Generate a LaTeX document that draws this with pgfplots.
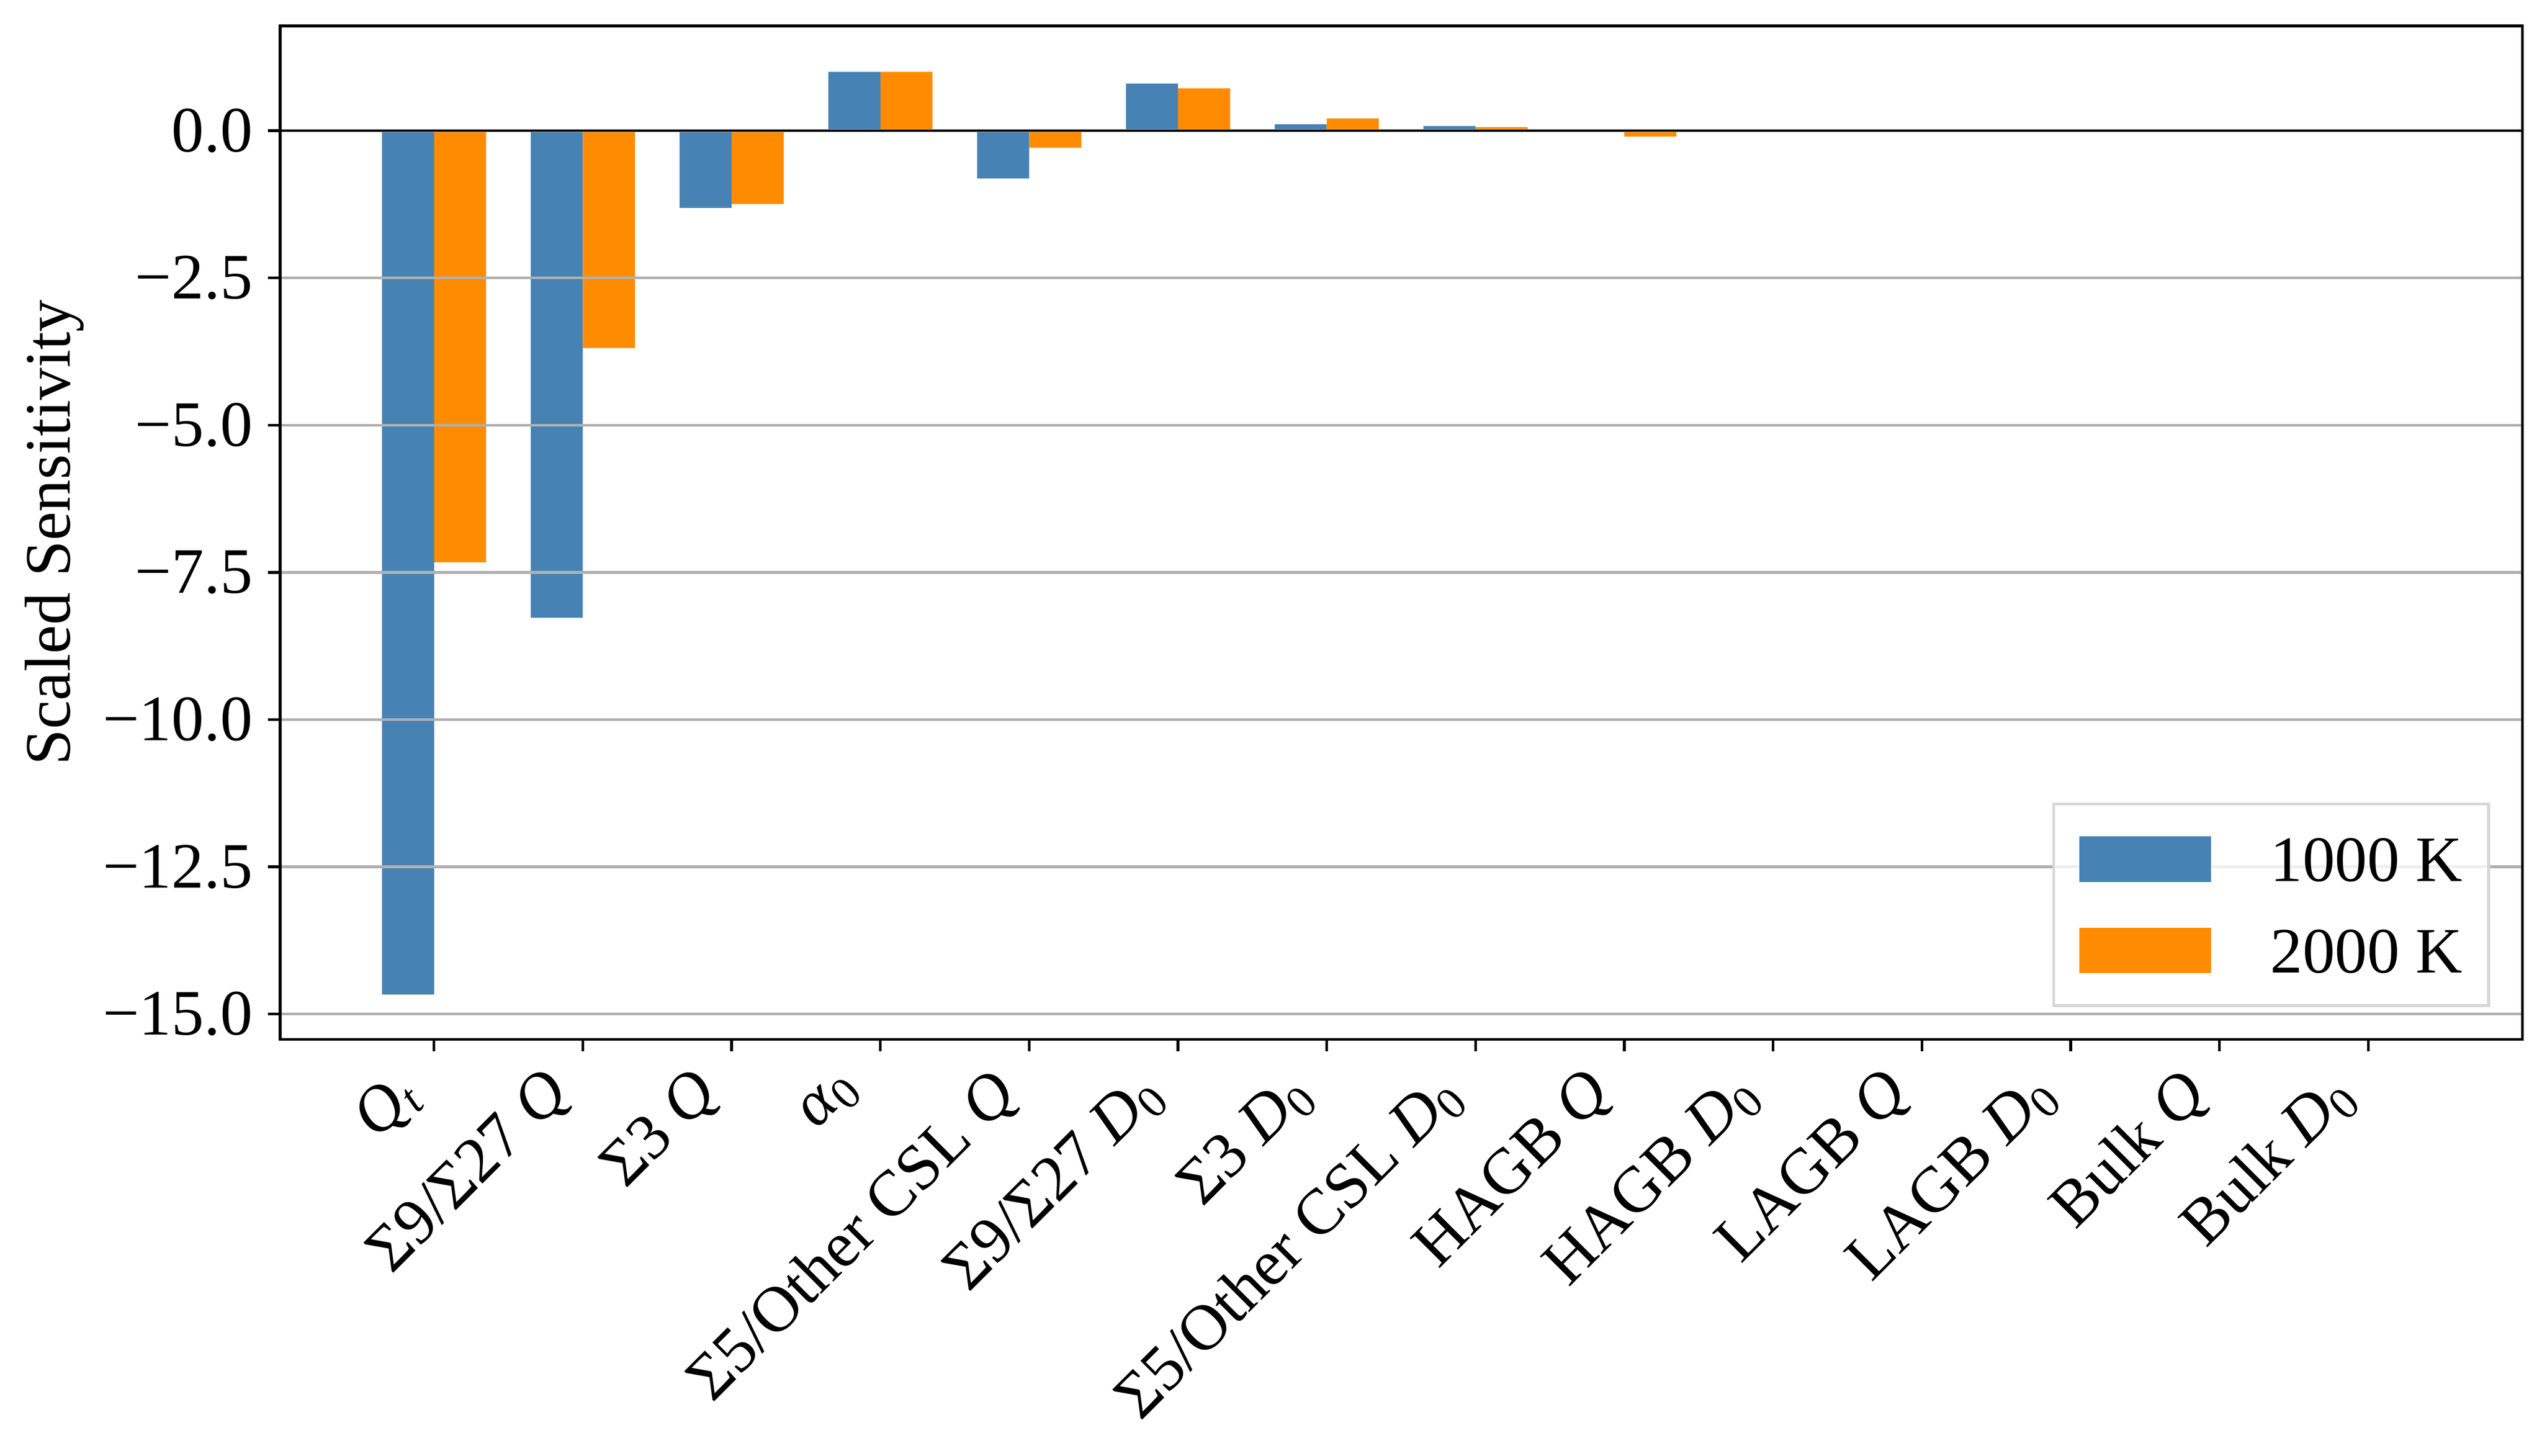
\documentclass[border=0pt]{standalone}
\usepackage{fontspec}
\setmainfont{Liberation Serif}
\usepackage{pgfplots}
\pgfplotsset{compat=1.18}
\definecolor{steelblue}{HTML}{4682B4}
\definecolor{darkorange}{HTML}{FF8C00}
\definecolor{gridgray}{HTML}{B0B0B0}
\definecolor{legframe}{HTML}{D6D6D6}
\begin{document}
\fontsize{10pt}{12pt}\selectfont
\begin{tikzpicture}
\begin{axis}[
  at={(0pt,0pt)}, anchor=south west,
  scale only axis, width=346.25pt, height=156.5pt,
  xmin=-1.035, xmax=14.035, ymin=-15.43, ymax=1.78,
  set layers, axis on top,
  axis line style={line width=0.425pt, black},
  tick align=outside, major tick length=1.85pt,
  every tick/.style={line width=0.425pt, black},
  xtick pos=bottom, ytick pos=left,
  ymajorgrids, grid style={line width=0.425pt, gridgray},
  xtick={0,1,2,3,4,5,6,7,8,9,10,11,12,13},
  xticklabels={
    {\textit{Q}\textsubscript{\textit{t}}},
    {Σ9/Σ27 \textit{Q}},
    {Σ3 \textit{Q}},
    {\textit{α}\textsubscript{0}},
    {Σ5/Other CSL \textit{Q}},
    {Σ9/Σ27 \textit{D}\textsubscript{0}},
    {Σ3 \textit{D}\textsubscript{0}},
    {Σ5/Other CSL \textit{D}\textsubscript{0}},
    {HAGB \textit{Q}},
    {HAGB \textit{D}\textsubscript{0}},
    {LAGB \textit{Q}},
    {LAGB \textit{D}\textsubscript{0}},
    {Bulk \textit{Q}},
    {Bulk \textit{D}\textsubscript{0}}},
  xticklabel style={inner sep=0pt, xshift=-6.5pt, yshift=-1.85pt, rotate=45, anchor=north east},
  ytick={-15,-12.5,-10,-7.5,-5,-2.5,0},
  yticklabels={−15.0,−12.5,−10.0,−7.5,−5.0,−2.5,0.0},
  yticklabel style={inner sep=0pt, xshift=-2.2pt, anchor=east},
  ylabel={Scaled Sensitivity},
  every axis y label/.style={at={(rel axis cs:0,0.5)}, xshift=-34.85pt, rotate=90, anchor=center},
  legend style={at={(0.9856,0.032)}, anchor=south east, draw=legframe, line width=0.425pt,
    fill=white, fill opacity=0.8, draw opacity=1, text opacity=1, inner xsep=4pt, inner ysep=5pt,
    row sep=7.1pt, column sep=9.15pt,
    nodes={inner sep=0pt, text height=6.9pt, text depth=0pt}},
  legend cell align=left,
  legend image code/.code={\fill[#1, fill opacity=1] (0pt,-3.5pt) rectangle (20.3pt,3.5pt);},
]
\addplot[ybar, bar width=0.35, bar shift=-0.175, fill=steelblue, draw=none] coordinates {
  (0,-14.67) (1,-8.27) (2,-1.31) (3,1.0) (4,-0.81) (5,0.80) (6,0.11)
  (7,0.08) (8,0.0) (9,0) (10,0) (11,0) (12,0) (13,0)};
\addlegendentry{1000 K}
\addplot[ybar, bar width=0.35, bar shift=0.175, fill=darkorange, draw=none] coordinates {
  (0,-7.33) (1,-3.69) (2,-1.245) (3,1.0) (4,-0.29) (5,0.72) (6,0.21)
  (7,0.06) (8,-0.10) (9,0) (10,0) (11,0) (12,0) (13,0)};
\addlegendentry{2000 K}
\addplot[black, line width=0.35pt, on layer=axis foreground, forget plot] coordinates {(-1.035,0) (14.035,0)};
\end{axis}
\pgfresetboundingbox
\path[use as bounding box] (-43.25pt,-64.3pt) rectangle (349.3pt,160.5pt);
\end{tikzpicture}
\end{document}
